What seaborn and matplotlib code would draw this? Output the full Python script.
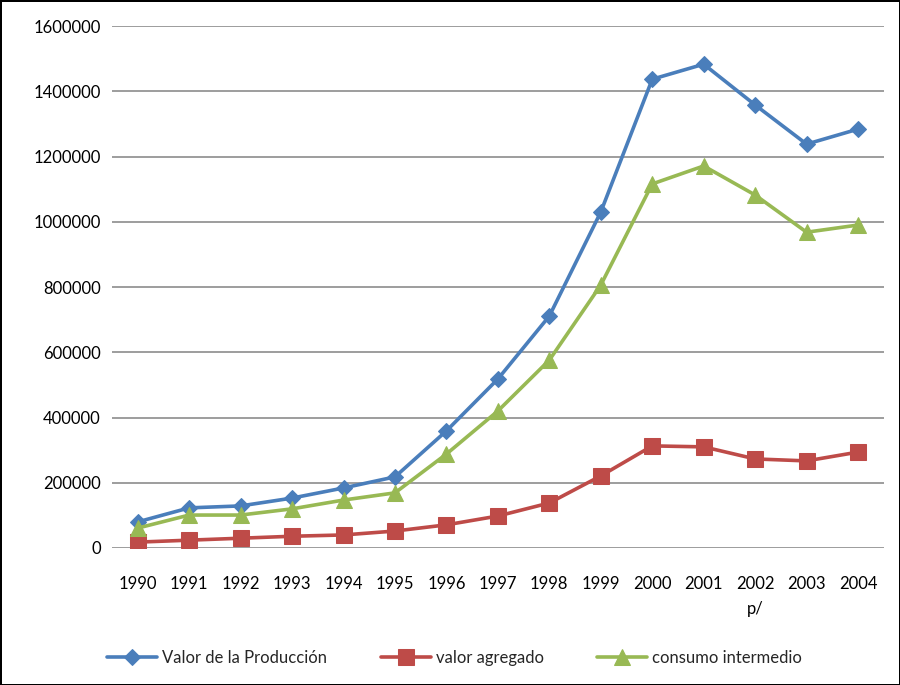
import pandas as pd
import seaborn as sns
import matplotlib.pyplot as plt
from matplotlib.ticker import FuncFormatter

# Data
years = ['1990', '1991', '1992', '1993', '1994', '1995', '1996', '1997',
         '1998', '1999', '2000', '2001', '2002\np/', '2003', '2004']

valor_produccion = [80000, 123000, 129000, 153000, 184000, 218000, 359000, 518000,
                    711000, 1030000, 1437000, 1483000, 1358000, 1238000, 1284000]
valor_agregado = [18000, 24000, 30000, 36000, 40000, 52000, 71000, 98000,
                  138000, 221000, 313000, 310000, 273000, 267000, 294000]
consumo_intermedio = [61000, 101000, 101000, 120000, 147000, 169000, 288000, 420000,
                      576000, 806000, 1116000, 1171000, 1082000, 968000, 990000]

series_names = ['Valor de la Producción', 'valor agregado', 'consumo intermedio']
series_values = [valor_produccion, valor_agregado, consumo_intermedio]
colors = ['#4A7EBB', '#BE4B48', '#98B954']
markers = ['D', 's', '^']
marker_sizes = [8, 11, 11]

sns.set_style('white')
plt.rcParams['font.family'] = ['Lato', 'DejaVu Sans']

fig = plt.figure(figsize=(9, 6.85), dpi=100)
fig.patch.set_edgecolor('black')
fig.patch.set_linewidth(2)
ax = fig.add_axes([0.1244, 0.2, 0.8576, 0.762])

for name, vals, c, m, ms in zip(series_names, series_values, colors, markers, marker_sizes):
    df = pd.DataFrame({'year': years, 'value': vals})
    sns.lineplot(data=df, x='year', y='value', ax=ax, color=c, marker=m,
                 markersize=ms, markeredgecolor=c, linewidth=2.6, label=name)

ax.set_ylim(0, 1600000)
ax.set_yticks(range(0, 1600001, 200000))
ax.yaxis.set_major_formatter(FuncFormatter(lambda v, p: f'{int(v)}'))
ax.set_xlim(-0.5, len(years) - 0.5)
ax.yaxis.grid(True, color='#8c8c8c', linewidth=1.2)
ax.set_axisbelow(True)
for s in ax.spines.values():
    s.set_visible(False)
ax.tick_params(axis='both', length=0, labelsize=12, colors='black')
ax.tick_params(axis='x', pad=20)
ax.tick_params(axis='y', pad=8)
for lbl in ax.get_xticklabels():
    lbl.set_linespacing(1.7)
ax.set_xlabel('')
ax.set_ylabel('')

ax.legend_.remove()
handles, labels = ax.get_legend_handles_labels()
fig.legend(handles, labels, loc='center', bbox_to_anchor=(0.505, 0.04), ncol=3,
           frameon=False, fontsize=12, handlelength=3, columnspacing=3.2,
           handletextpad=0.3)

fig.savefig('out.png', dpi=100)
